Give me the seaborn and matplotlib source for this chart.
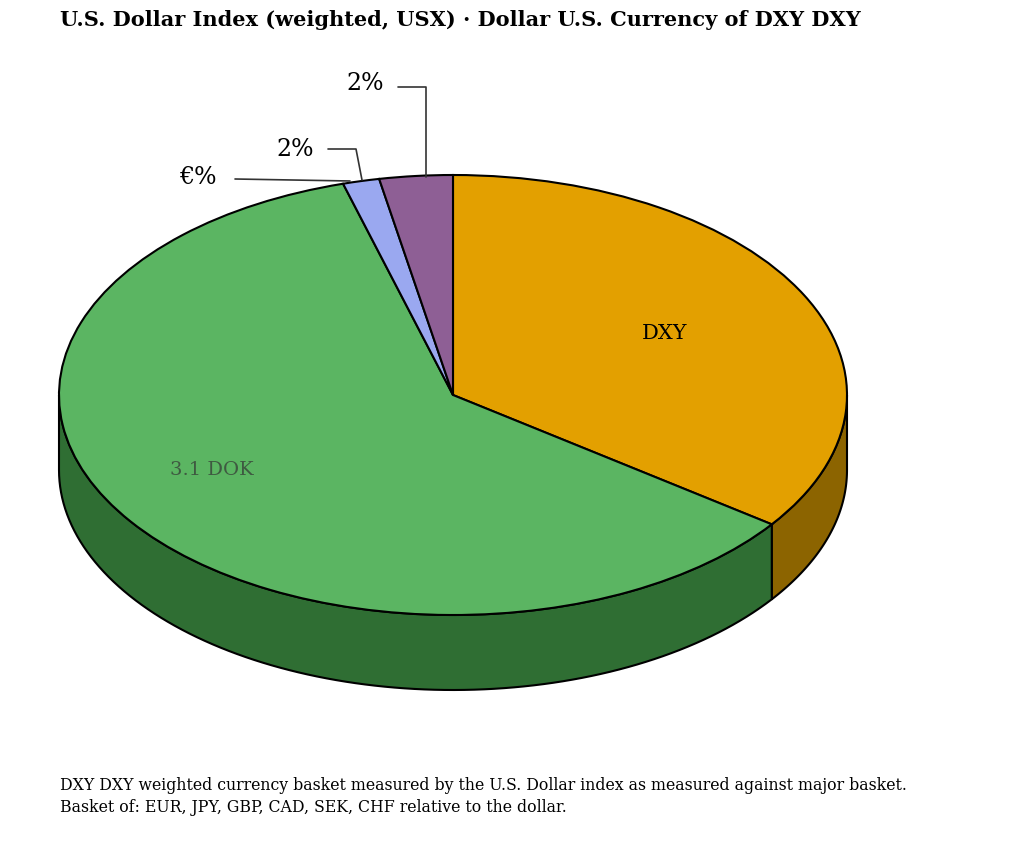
import numpy as np
import matplotlib
matplotlib.use("Agg")
import matplotlib.pyplot as plt
import seaborn as sns
from matplotlib.patches import Polygon

sns.set_theme(style="white")

categories = ["DXY", "3.1 DOK", "€%", "2%"]
values = [35, 60.5, 1.5, 3]
colors = ["#E3A000", "#5BB562", "#9AA8F0", "#8E5F95"]
dark = ["#8C6400", "#2F6E33", "#5A66A0", "#5A3A60"]
pct_labels = ["€%", "2%", "2%"]

W, H = 1024, 843
fig = plt.figure(figsize=(W/100, H/100), dpi=100)
ax = fig.add_axes([0, 0, 1, 1])
cx, cy, rx, ry = 453, 395, 394, 220
def d(px, py):
    return (px-cx)/rx, (cy-py)/ry
depth = 75/ry

start = 90.0
tot = sum(values)
for v, c, dc in zip(values, colors, dark):
    a1 = start - 360*v/tot
    lo, hi = max(a1, -180), min(start, 0)
    if lo < hi:
        t = np.radians(np.linspace(lo, hi, 100))
        xs, ys = np.cos(t), np.sin(t)
        pts = np.concatenate([np.c_[xs, ys], np.c_[xs[::-1], ys[::-1]-depth]])
        ax.add_patch(Polygon(pts, closed=True, fc=dc, ec="black", lw=1.5, zorder=1))
    start = a1

ax.pie(values, colors=colors, startangle=90, counterclock=False,
       wedgeprops=dict(edgecolor="black", linewidth=1.5, zorder=2))
ax.set_aspect("auto")
ax.set_xlim(-cx/rx, (W-cx)/rx)
ax.set_ylim((cy-H)/ry, cy/ry)
ax.axis("off")

ax.text(*d(665, 333), categories[0], ha="center", va="center", fontsize=15, family="DejaVu Serif", color="black", zorder=5)
ax.text(*d(212, 470), categories[1], ha="center", va="center", fontsize=14, family="DejaVu Serif", color="#333", alpha=0.7, zorder=5)

lines = [([(235, 179), (350, 181)], (198, 178), pct_labels[0]),
         ([(328, 149), (356, 149), (362, 180)], (295, 149), pct_labels[1]),
         ([(398, 87), (426, 87), (426, 177)], (365, 84), pct_labels[2])]
for pts, lp, txt in lines:
    xy = np.array([d(*p) for p in pts])
    ax.plot(xy[:, 0], xy[:, 1], color="#333", lw=1.2, zorder=6)
    ax.text(*d(*lp), txt, ha="center", va="center", fontsize=17, family="DejaVu Serif", color="black", zorder=6)

fig.text(60/W, 1-20/H, "U.S. Dollar Index (weighted, USX) · Dollar U.S. Currency of DXY DXY",
         ha="left", va="center", fontsize=15, fontweight="bold", family="DejaVu Serif", color="black")
fig.text(60/W, 1-786/H, "DXY DXY weighted currency basket measured by the U.S. Dollar index as measured against major basket.",
         ha="left", va="center", fontsize=11.3, family="DejaVu Serif", color="black")
fig.text(60/W, 1-807/H, "Basket of: EUR, JPY, GBP, CAD, SEK, CHF relative to the dollar.",
         ha="left", va="center", fontsize=11.3, family="DejaVu Serif", color="black")

fig.savefig("out.png", dpi=100, facecolor="white")
